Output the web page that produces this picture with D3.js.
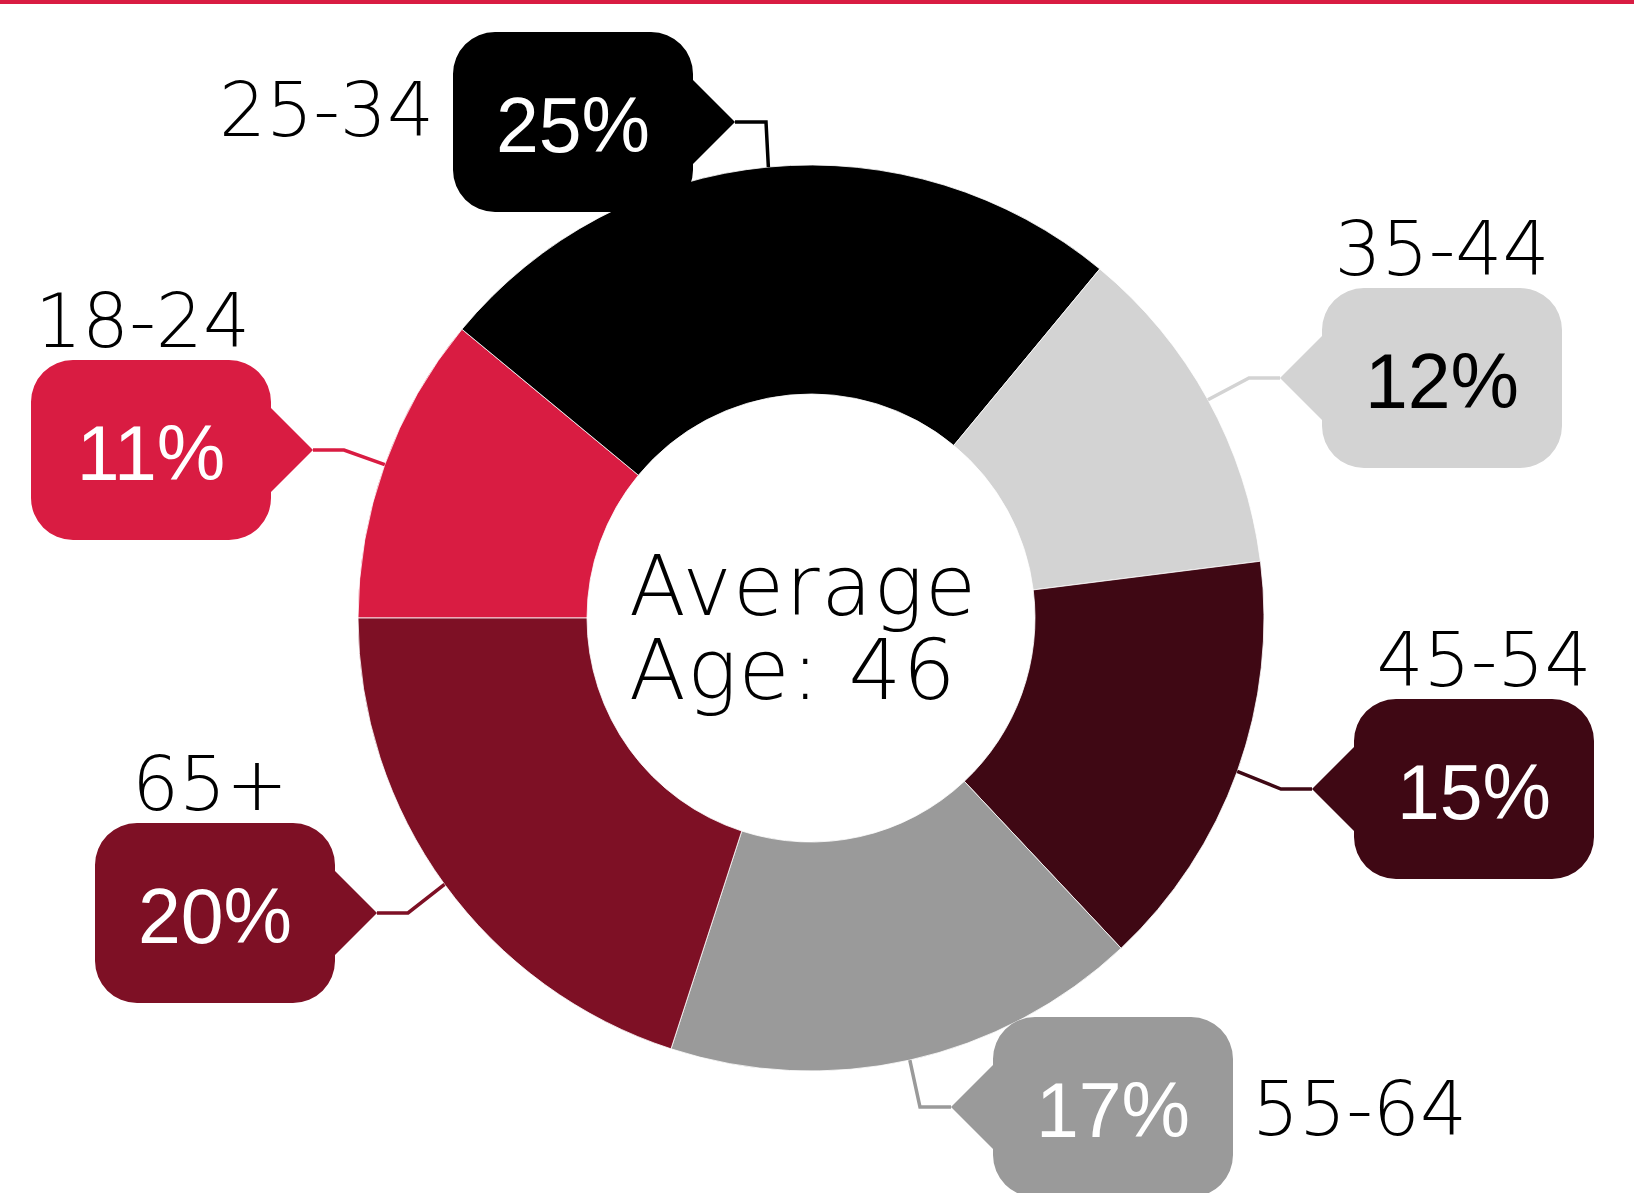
<!DOCTYPE html>
<html>
<head>
<meta charset="utf-8">
<script src="https://cdn.jsdelivr.net/npm/d3@7/dist/d3.min.js"></script>
<style>
  html, body { margin: 0; padding: 0; background: #fff; overflow: hidden; }
  svg { display: block; }
</style>
</head>
<body>
<svg id="chart" width="1634" height="1193"></svg>
<script>
// ---------- data ----------
const categories = ["18-24", "25-34", "35-44", "45-54", "55-64", "65+"];
const shares = [11, 25, 12, 15, 17, 20];
const centerLines = ["Average", "Age: 46"];

// ---------- styles ----------
const colorFor = {
  "18-24": "#D91C42", "25-34": "#000000", "35-44": "#D3D3D3",
  "45-54": "#3F0814", "55-64": "#9A9A9A", "65+": "#7E1025"
};
const pctTextColor = { "35-44": "#000000" };

// ---------- callout layout (placement of the boxes, not data) ----------
const calloutLayout = {
  "18-24": { tip: [313, 450], dir: "left",  label: { pos: "above", dx: 4, anchor: "start" } },
  "25-34": { tip: [735, 122], dir: "left",  label: { pos: "leftOf" } },
  "35-44": { tip: [1280, 378], dir: "right", label: { pos: "above", dx: 0, anchor: "middle" } },
  "45-54": { tip: [1312, 789], dir: "right", label: { pos: "above", dx: 10, anchor: "middle" } },
  "55-64": { tip: [951, 1107], dir: "right", label: { pos: "rightOf" } },
  "65+":   { tip: [377, 913], dir: "left",  label: { pos: "above", dx: -5, anchor: "middle" } }
};

const W = 1634, H = 1193;
const cx = 811, cy = 618, R = 453, r0 = 224;
const boxW = 240, boxH = 180, boxR = 42, ptrDepth = 42, ptrHalf = 42, elbowLen = 31;
const labelFont = "'DejaVu Sans', sans-serif";

const svg = d3.select("#chart");

svg.append("rect").attr("x", 0).attr("y", 0).attr("width", W).attr("height", 4).attr("fill", "#D91C42");

const data = categories.map((c, i) => ({ cat: c, value: shares[i] }));

const pie = d3.pie().value(d => d.value).sort(null)
  .startAngle(-Math.PI / 2).endAngle(1.5 * Math.PI);
const arcs = pie(data);
const arc = d3.arc().innerRadius(r0).outerRadius(R);

const g = svg.append("g").attr("transform", `translate(${cx},${cy})`);
g.selectAll("path.slice").data(arcs).join("path")
  .attr("class", "slice")
  .attr("d", arc)
  .attr("fill", d => colorFor[d.data.cat])
  .attr("stroke", "#fff")
  .attr("stroke-width", 0.8);

function boxPath(tx, ty, dir) {
  const p = d3.path();
  let x0, x1;
  const y0 = ty - boxH / 2, y1 = ty + boxH / 2, rr = boxR;
  if (dir === "left") { x1 = tx - ptrDepth; x0 = x1 - boxW; }
  else { x0 = tx + ptrDepth; x1 = x0 + boxW; }
  p.moveTo(x0 + rr, y0);
  p.lineTo(x1 - rr, y0);
  p.arcTo(x1, y0, x1, y0 + rr, rr);
  if (dir === "left") {
    p.lineTo(x1, ty - ptrHalf); p.lineTo(tx, ty); p.lineTo(x1, ty + ptrHalf);
  }
  p.lineTo(x1, y1 - rr);
  p.arcTo(x1, y1, x1 - rr, y1, rr);
  p.lineTo(x0 + rr, y1);
  p.arcTo(x0, y1, x0, y1 - rr, rr);
  if (dir === "right") {
    p.lineTo(x0, ty + ptrHalf); p.lineTo(tx, ty); p.lineTo(x0, ty - ptrHalf);
  }
  p.lineTo(x0, y0 + rr);
  p.arcTo(x0, y0, x0 + rr, y0, rr);
  p.closePath();
  return { d: p.toString(), x0, x1, y0, y1 };
}

const callG = svg.append("g");
arcs.forEach(a => {
  const cat = a.data.cat;
  const L = calloutLayout[cat];
  const col = colorFor[cat];
  const mid = (a.startAngle + a.endAngle) / 2;
  const sx = cx + R * Math.sin(mid), sy = cy - R * Math.cos(mid);
  const [tx, ty] = L.tip;
  const ex = L.dir === "left" ? tx + elbowLen : tx - elbowLen;
  callG.append("polyline")
    .attr("points", `${sx},${sy} ${ex},${ty} ${tx},${ty}`)
    .attr("fill", "none").attr("stroke", col).attr("stroke-width", 3.5)
    .attr("stroke-linejoin", "miter");
  const b = boxPath(tx, ty, L.dir);
  callG.append("path").attr("d", b.d).attr("fill", col);
  callG.append("text")
    .attr("x", (b.x0 + b.x1) / 2).attr("y", ty + 30)
    .attr("text-anchor", "middle")
    .attr("font-family", "'Liberation Sans', Arial, sans-serif")
    .attr("font-size", 77)
    .attr("fill", pctTextColor[cat] || "#fff")
    .attr("stroke", col).attr("stroke-width", 1).attr("paint-order", "stroke")
    .text(a.data.value + "%");
  const t = callG.append("text")
    .attr("font-family", labelFont).attr("font-weight", 200)
    .attr("font-size", 74).attr("fill", "#000").text(cat);
  if (L.label.pos === "above") {
    const x = L.label.anchor === "start" ? b.x0 + L.label.dx : (b.x0 + b.x1) / 2 + L.label.dx;
    t.attr("x", x).attr("y", b.y0 - 13).attr("text-anchor", L.label.anchor);
  } else if (L.label.pos === "leftOf") {
    t.attr("x", b.x0 - 19).attr("y", ty + 14).attr("text-anchor", "end");
  } else {
    t.attr("x", b.x1 + 19).attr("y", ty + 28).attr("text-anchor", "start");
  }
});

const ct = svg.append("text")
  .attr("font-family", labelFont).attr("font-weight", 200)
  .attr("font-size", 83).attr("letter-spacing", 1.5).attr("fill", "#000");
ct.selectAll("tspan").data(centerLines).join("tspan")
  .attr("x", 629).attr("y", (d, i) => 615 + i * 84)
  .text(d => d);
</script>
</body>
</html>
